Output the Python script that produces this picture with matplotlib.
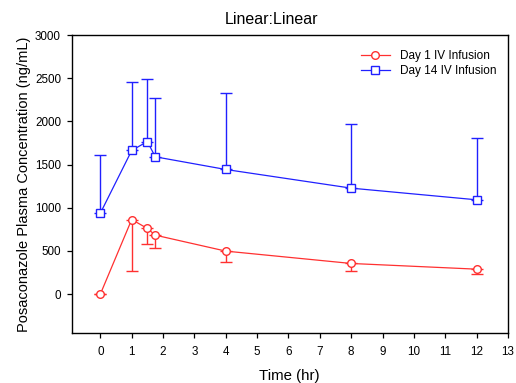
import matplotlib
matplotlib.use('Agg')
import matplotlib.pyplot as plt
import numpy as np

plt.rcParams['font.family'] = ['Liberation Sans', 'DejaVu Sans']

# Sampling times (hr)
time_hr = [0, 1, 1.5, 1.75, 4, 8, 12]

# Day 1 IV infusion: mean and SD (ng/mL), SD drawn below the mean
day1_mean = [0, 864, 760, 683, 498, 355, 289]
day1_sd   = [0, 594, 177, 154, 124, 85, 58]

# Day 14 IV infusion: mean and SD (ng/mL), SD drawn above the mean
day14_mean = [937, 1663, 1767, 1590, 1443, 1227, 1092]
day14_sd   = [679, 794, 728, 686, 883, 748, 717]

x_ticks = list(range(0, 14))
y_ticks = [0, 500, 1000, 1500, 2000, 2500, 3000]

RED  = '#ff3030'
BLUE = '#2020ff'

fig = plt.figure(figsize=(5.16, 3.83), dpi=100)
ax = fig.add_axes([71.5/516, 1 - 333/383, (508-71.5)/516, (333-35)/383])

zeros = np.zeros(len(time_hr))

ax.errorbar(time_hr, day1_mean, yerr=[day1_sd, zeros], color=RED, lw=0.9,
            marker='o', ms=5.5, mfc='white', mec=RED, mew=1.0,
            elinewidth=1.0, capsize=4, capthick=1.0, label='Day 1 IV Infusion')
ax.errorbar(time_hr, day14_mean, yerr=[zeros, day14_sd], color=BLUE, lw=0.9,
            marker='s', ms=5.2, mfc='white', mec=BLUE, mew=1.0,
            elinewidth=1.0, capsize=4, capthick=1.0, label='Day 14 IV Infusion')

ax.set_xlim(-0.92, 12.95)
ax.set_ylim(-450, 3000)
ax.set_xticks(x_ticks)
ax.set_yticks(y_ticks)
ax.tick_params(axis='both', direction='out', length=3.6, width=0.9, labelsize=8.4, pad=4)
ax.tick_params(axis='x', pad=6)

for sp in ax.spines.values():
    sp.set_linewidth(1.0)

fig.text(272/516, 1 - 19/383, 'Linear:Linear', fontsize=11.5, ha='center', va='center')
ax.set_xlabel('Time (hr)', fontsize=10.8, labelpad=8)
ax.set_ylabel('Posaconazole Plasma Concentration (ng/mL)', fontsize=10.5, labelpad=2.5)

# legend with line+marker handles only (no error bar glyphs)
handles, labels = ax.get_legend_handles_labels()
handles = [h[0] for h in handles]
ax.legend(handles, labels, loc='upper right', frameon=False, fontsize=8.5,
          handlelength=2.5, handletextpad=0.8, borderaxespad=0.6, labelspacing=0.25,
          bbox_to_anchor=(1.0, 0.99))

fig.savefig('out.png', dpi=100)
